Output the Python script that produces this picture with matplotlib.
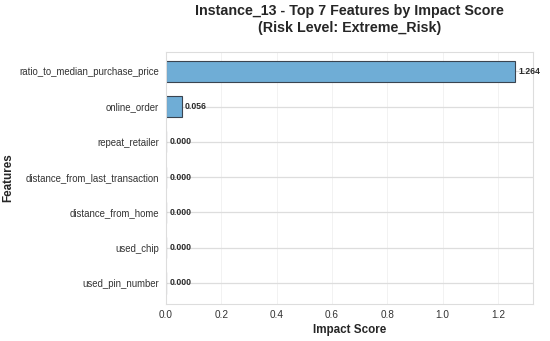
import numpy as np
import matplotlib
matplotlib.use("Agg")
import matplotlib.pyplot as plt
import seaborn as sns

# Feature impact data (top to bottom)
features = ["ratio_to_median_purchase_price", "online_order", "repeat_retailer",
            "distance_from_last_transaction", "distance_from_home", "used_chip",
            "used_pin_number"]
impact = [1.264, 0.056, 0.000, 0.000, 0.000, 0.000, 0.000]

sns.set_style("whitegrid")
plt.rcParams['font.family'] = ['Liberation Sans', 'DejaVu Sans']

fig, ax = plt.subplots(figsize=(5.5, 3.41), dpi=100)
y = np.arange(len(features))
bars = ax.barh(y, impact, height=0.6, color="#6fadd6", edgecolor="#3a4450", linewidth=0.8)

ax.set_yticks(y)
ax.set_yticklabels(features, fontsize=6.9, color="#333333")
ax.invert_yaxis()
ax.set_xlim(0, max(impact) * 1.05)
ax.set_ylim(6.6, -0.55)
ax.tick_params(axis='x', labelsize=7.2, colors="#333333")
ax.tick_params(axis='y', length=0, pad=5)
ax.tick_params(axis='x', length=0, pad=4)

for b, v in zip(bars, impact):
    ax.text(b.get_width() + 0.012, b.get_y() + b.get_height() / 2, f"{v:.3f}",
            va="center", ha="left", fontsize=6.2, fontweight="bold", color="#2a2a2a")

ax.xaxis.grid(True, color="#f0f0f0", linewidth=0.6)
ax.yaxis.grid(True, color="#dddddd", linewidth=0.9)
for s in ax.spines.values():
    s.set_color("#dddddd")

ax.set_xlabel("Impact Score", fontsize=8.4, fontweight="bold", labelpad=3)
ax.set_ylabel("Features", fontsize=8.4, fontweight="bold", labelpad=4)
ax.set_title("Instance_13 - Top 7 Features by Impact Score\n(Risk Level: Extreme_Risk)",
             fontsize=10.3, fontweight="bold", pad=14, linespacing=1.3)

fig.subplots_adjust(left=0.302, right=0.969, top=0.848, bottom=0.108)
fig.savefig("out.png", dpi=100)
